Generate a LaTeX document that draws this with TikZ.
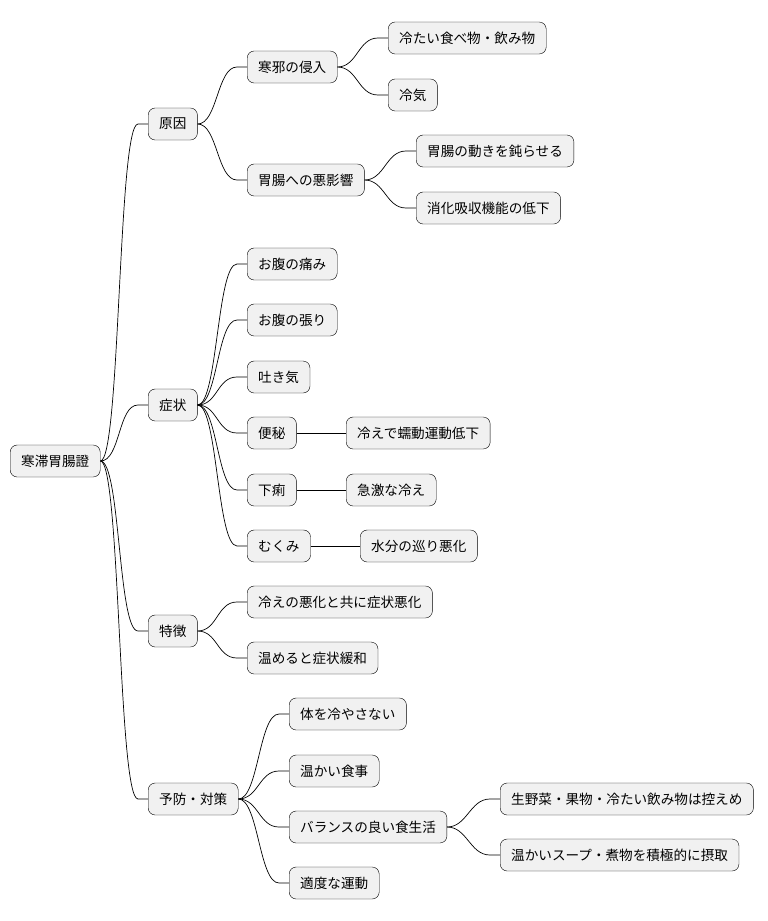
\documentclass[tikz,border=0pt]{standalone}
\usepackage{fontspec}
\setmainfont{Noto Sans CJK JP}
\definecolor{boxfill}{HTML}{F1F1F1}
\begin{document}
\begin{tikzpicture}[
        x=1pt, y=-1pt,
        box/.style={
            draw,
            fill=boxfill,
            rectangle,
            rounded corners=7pt,
            anchor=west,
            minimum height=32pt,
            inner xsep=11pt,
            font=\fontsize{13.6}{15}\selectfont
        },
        link/.style={line width=0.7pt}
    ]
    \useasboundingbox (0,0) rectangle (768,921);

    % root
    \node[box] (root) at (10,461) {寒滞胃腸證};

    % level 1
    \node[box] (cause) at (148,124) {原因};
    \node[box] (symp)  at (148,405) {症状};
    \node[box] (feat)  at (148,631) {特徴};
    \node[box] (prev)  at (148,799) {予防・対策};

    % cause branch
    \node[box] (cold)  at (247,67)  {寒邪の侵入};
    \node[box] (food)  at (388,38)  {冷たい食べ物・飲み物};
    \node[box] (air)   at (388,95)  {冷気};
    \node[box] (harm)  at (247,180) {胃腸への悪影響};
    \node[box] (slow)  at (416,151) {胃腸の動きを鈍らせる};
    \node[box] (absorb) at (416,208) {消化吸収機能の低下};

    % symptom branch
    \node[box] (pain)  at (247,264) {お腹の痛み};
    \node[box] (bloat) at (247,320) {お腹の張り};
    \node[box] (naus)  at (247,377) {吐き気};
    \node[box] (const) at (247,433) {便秘};
    \node[box] (peri)  at (346,433) {冷えで蠕動運動低下};
    \node[box] (diar)  at (247,490) {下痢};
    \node[box] (chill) at (346,490) {急激な冷え};
    \node[box] (edema) at (247,546) {むくみ};
    \node[box] (water) at (360,546) {水分の巡り悪化};

    % feature branch
    \node[box] (worse) at (247,602) {冷えの悪化と共に症状悪化};
    \node[box] (warm)  at (247,658) {温めると症状緩和};

    % prevention branch
    \node[box] (keep)  at (289,714) {体を冷やさない};
    \node[box] (meal)  at (289,771) {温かい食事};
    \node[box] (diet)  at (289,827) {バランスの良い食生活};
    \node[box] (raw)   at (500,799) {生野菜・果物・冷たい飲み物は控えめ};
    \node[box] (soup)  at (500,855) {温かいスープ・煮物を積極的に摂取};
    \node[box] (exer)  at (289,883) {適度な運動};

    % connectors
    \foreach \p/\c in {root/cause, root/symp, root/feat, root/prev,
                       cause/cold, cause/harm, cold/food, cold/air,
                       harm/slow, harm/absorb,
                       symp/pain, symp/bloat, symp/naus, symp/const,
                       symp/diar, symp/edema,
                       feat/worse, feat/warm,
                       prev/keep, prev/meal, prev/diet, prev/exer,
                       diet/raw, diet/soup}
        \draw[link] (\p.east) .. controls +(20,0) and +(-20,0)
            .. ([xshift=-10pt]\c.west) -- (\c.west);
    \draw[link] (const) -- (peri);
    \draw[link] (diar) -- (chill);
    \draw[link] (edema) -- (water);
\end{tikzpicture}
\end{document}
